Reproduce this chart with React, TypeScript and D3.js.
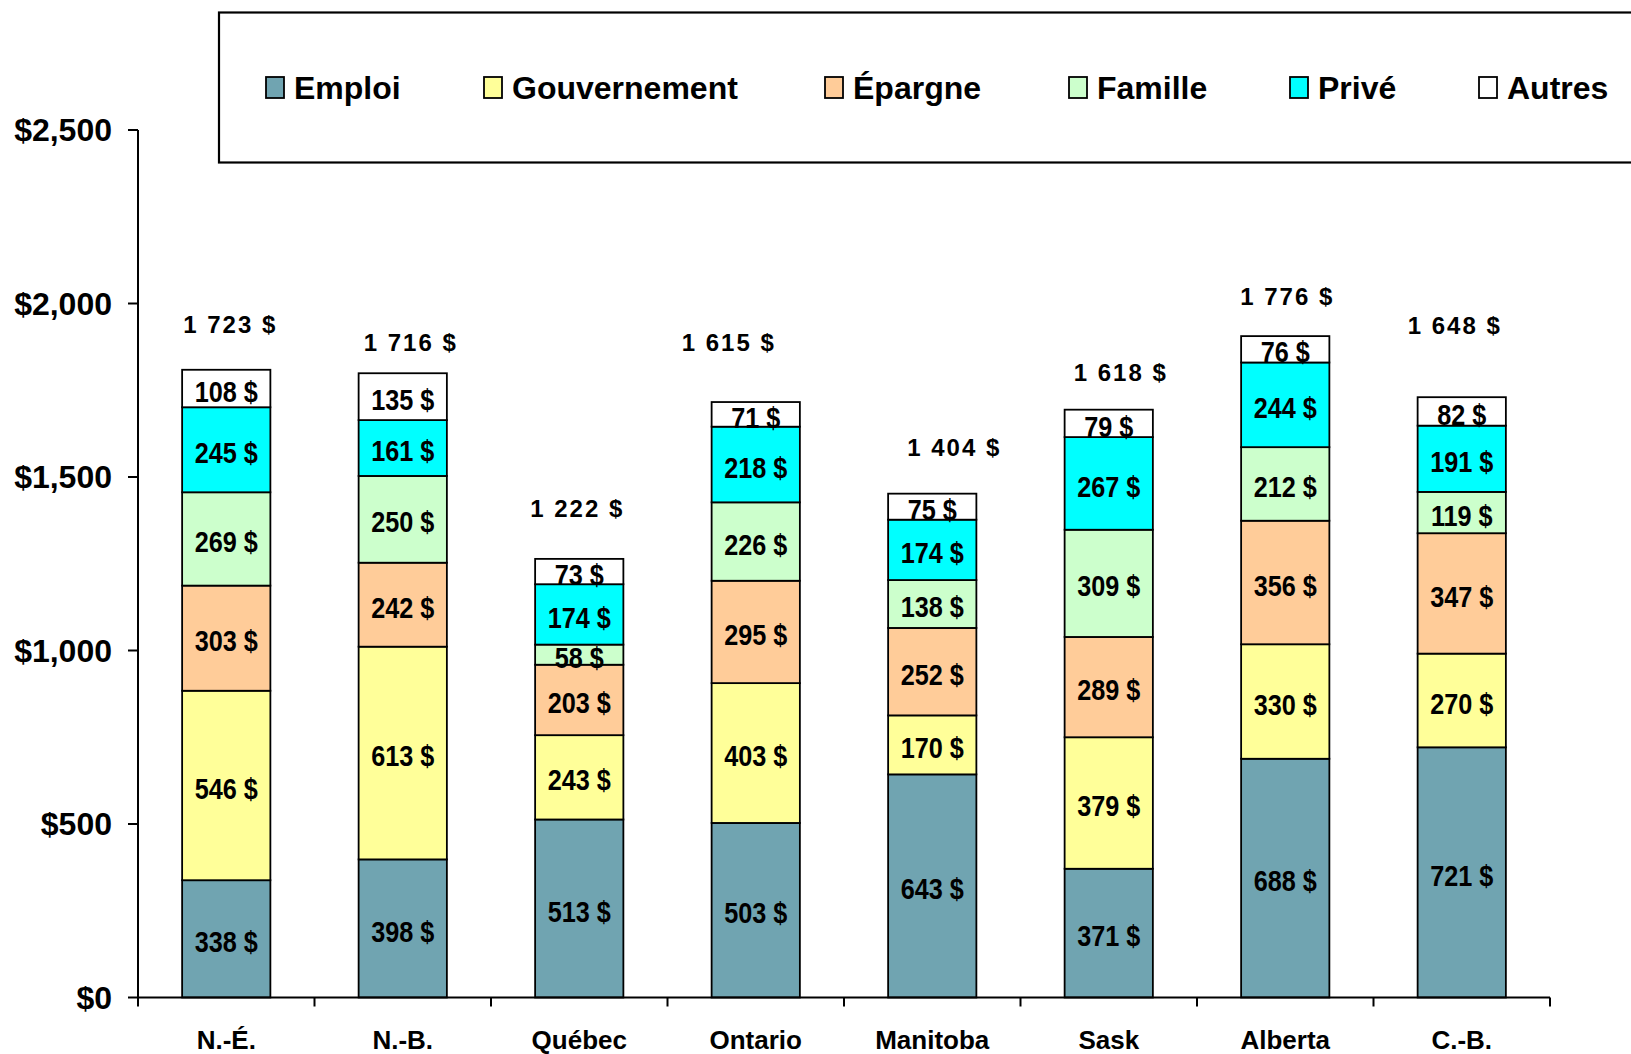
import React from 'react';
import * as d3 from 'd3';

const categories = ['N.-É.', 'N.-B.', 'Québec', 'Ontario', 'Manitoba', 'Sask', 'Alberta', 'C.-B.'];
const seriesNames = ['Emploi', 'Gouvernement', 'Épargne', 'Famille', 'Privé', 'Autres'];
const emploi = [338, 398, 513, 503, 643, 371, 688, 721];
const gouvernement = [546, 613, 243, 403, 170, 379, 330, 270];
const epargne = [303, 242, 203, 295, 252, 289, 356, 347];
const famille = [269, 250, 58, 226, 138, 309, 212, 119];
const prive = [245, 161, 174, 218, 174, 267, 244, 191];
const autres = [108, 135, 73, 71, 75, 79, 76, 82];
const totalLabels = ['1 723 $', '1 716 $', '1 222 $', '1 615 $', '1 404 $', '1 618 $', '1 776 $', '1 648 $'];
const yTicks = [0, 500, 1000, 1500, 2000, 2500];

const colors = ['#70A4B1', '#FFFF99', '#FFCC99', '#CCFFCC', '#00FFFF', '#FFFFFF'];
// placement of the total labels (pixels above bar top, horizontal shift)
const totalLift = [45, 31, 50, 60, 46, 37, 40, 72];
const totalShift = [4, 8, -2, -27, 22, 12, 2, -7];
const legendX = [266, 484, 825, 1069, 1290, 1479];

const FONT = '"Liberation Sans", Arial, sans-serif';

export default function App() {
  const W = 1631, H = 1054;
  const left = 138, right = 1550, top = 130, bottom = 997.5;
  const series = [emploi, gouvernement, epargne, famille, prive, autres];
  const rows = categories.map((c, i) => {
    const r: any = { cat: c };
    seriesNames.forEach((s, k) => (r[s] = series[k][i]));
    return r;
  });
  const stacked = d3.stack<any>().keys(seriesNames)(rows);
  const x = d3.scaleBand<string>().domain(categories).range([left, right]).paddingInner(0.5).paddingOuter(0.25);
  const y = d3.scaleLinear().domain([0, 2500]).range([bottom, top]);
  const fmt = d3.format('$,');
  const step = x.step();

  return (
    <svg width={W} height={H} style={{ position: 'absolute', left: 0, top: 0, background: '#fff' }} fontFamily={FONT} fontWeight="bold">
      {/* legend */}
      <rect x={219} y={12.5} width={1500} height={150} fill="#fff" stroke="#000" strokeWidth={2.2} />
      {seriesNames.map((s, k) => (
        <g key={s}>
          <rect x={legendX[k]} y={77} width={18} height={21} fill={colors[k]} stroke="#000" strokeWidth={1.8} />
          <text x={legendX[k] + 28} y={88} fontSize={32} dominantBaseline="central">{s}</text>
        </g>
      ))}
      {/* bars */}
      {stacked.map((layer, k) => (
        <g key={layer.key}>
          {layer.map((d, i) => (
            <rect key={i} x={x(categories[i])} y={y(d[1])} width={x.bandwidth()} height={y(d[0]) - y(d[1])}
              fill={colors[k]} stroke="#000" strokeWidth={1.8} />
          ))}
        </g>
      ))}
      {stacked.map((layer, k) => (
        <g key={'l' + layer.key}>
          {layer.map((d, i) => {
            const cx = x(categories[i])! + x.bandwidth() / 2;
            const cy = (y(d[0]) + y(d[1])) / 2 + 3;
            return (
              <text key={i} transform={`translate(${cx},${cy}) scale(0.87,1)`}
                fontSize={29} textAnchor="middle" dominantBaseline="central">{`${series[k][i]} $`}</text>
            );
          })}
        </g>
      ))}
      {/* totals */}
      {categories.map((c, i) => {
        const topVal = stacked[stacked.length - 1][i][1];
        return (
          <text key={c} x={x(c)! + x.bandwidth() / 2 + totalShift[i]} y={y(topVal) - totalLift[i]}
            fontSize={24} letterSpacing={2} textAnchor="middle" dominantBaseline="central">{totalLabels[i]}</text>
        );
      })}
      {/* y axis */}
      <line x1={left} x2={left} y1={top} y2={bottom} stroke="#000" strokeWidth={2} />
      {yTicks.map(t => (
        <g key={t}>
          <line x1={left - 10} x2={left} y1={y(t)} y2={y(t)} stroke="#000" strokeWidth={2} />
          <text x={112} y={y(t)} fontSize={32} textAnchor="end" dominantBaseline="central">{fmt(t)}</text>
        </g>
      ))}
      {/* x axis */}
      <line x1={left} x2={right} y1={bottom} y2={bottom} stroke="#000" strokeWidth={2} />
      {d3.range(categories.length + 1).map(j => (
        <line key={j} x1={left + j * step} x2={left + j * step} y1={bottom} y2={bottom + 9} stroke="#000" strokeWidth={2} />
      ))}
      {categories.map(c => (
        <text key={c} x={x(c)! + x.bandwidth() / 2} y={1040} fontSize={26} textAnchor="middle" dominantBaseline="central">{c}</text>
      ))}
    </svg>
  );
}
